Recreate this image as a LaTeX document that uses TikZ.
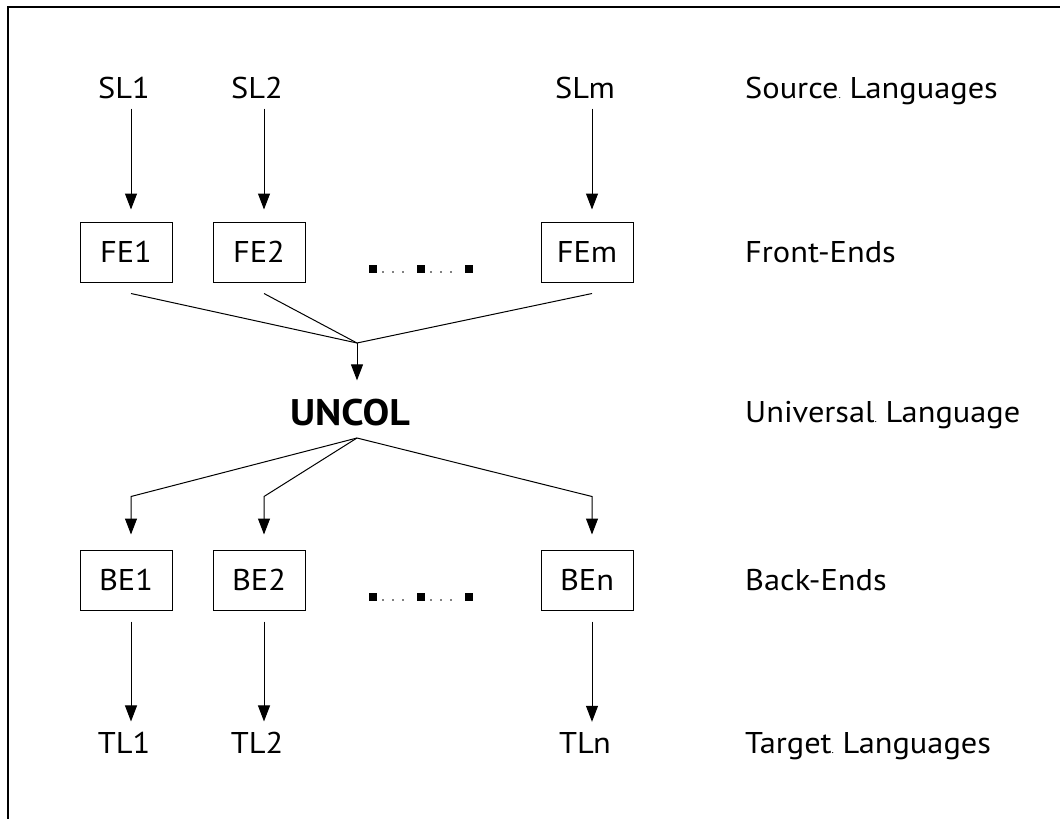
\documentclass[tikz,border=0pt]{standalone}
\usepackage{fontspec}
\setmainfont[FakeStretch=1.08]{PT Sans}
\usetikzlibrary{arrows.meta}

\newcommand{\gapdot}{{\fontsize{10}{10}\selectfont.}\ }

\begin{document}
\begin{tikzpicture}[
		x=1pt, y=-1pt,
		font=\fontsize{30}{36}\selectfont,
		lang/.style={anchor=base, inner sep=0pt},
		stage/.style={draw, line width=1pt, minimum width=92pt, minimum height=60pt, inner sep=0pt},
		layer/.style={anchor=base west, inner sep=0pt},
		flow/.style={line width=1pt, -{Triangle[length=16pt,width=12pt]}},
		fork/.style={line width=1pt}
	]
	\useasboundingbox (0,0) rectangle (1060,819);
	\draw[line width=2pt] (1060,7) -- (8,7) -- (8,819);

	% source languages and front-ends
	\node (sl1) [lang] at (124,98) {SL1};
	\node (sl2) [lang] at (257,98) {SL2};
	\node (slm) [lang] at (585,98) {SLm};
	\node (fe1) [stage] at (126,252) {FE1};
	\node (fe2) [stage] at (259,252) {FE2};
	\node (fem) [stage] at (587,252) {FEm};

	% universal language
	\node (uncol) [lang, font=\fontsize{37}{40}\selectfont\bfseries] at (350,425) {UNCOL};
	\coordinate (merge) at (357,343);
	\coordinate (split) at (357,438);

	% back-ends and target languages
	\node (be1) [stage] at (126,580) {BE1};
	\node (be2) [stage] at (259,580) {BE2};
	\node (ben) [stage] at (587,580) {BEn};
	\node (tl1) [lang] at (124,753) {TL1};
	\node (tl2) [lang] at (257,753) {TL2};
	\node (tln) [lang] at (585,753) {TLn};

	% labels on the right
	\node (srclab) [layer] at (745,98) {Source\gapdot Languages};
	\node (felab) [layer] at (745,262) {Front-Ends};
	\node (unilab) [layer] at (745,422) {Universal\gapdot Language};
	\node (belab) [layer] at (745,590) {Back-Ends};
	\node (tgtlab) [layer] at (745,753) {Target\gapdot Languages};

	\foreach \c in {1,2,m}
		\draw[flow, shorten <=10pt, shorten >=12pt] ([xshift=7pt]sl\c.south) -- ([xshift=7pt]sl\c.south |- fe\c.north);

	\foreach \c in {1,2,m}
		\draw[fork] ([xshift=5pt,yshift=-11pt]fe\c.south) -- (merge);
	\draw[flow, shorten >=18pt] (merge) -- (merge |- uncol.north);

	\foreach \c in {1,2,n}
		\draw[flow, shorten >=15pt] (split) -- ([xshift=5pt,yshift=53pt]be\c.north) -- ([xshift=5pt]be\c.north);

	\foreach \c in {1,2,n}
		\draw[flow, shorten <=11pt, shorten >=10pt] ([xshift=5pt]be\c.south) -- ([xshift=5pt]be\c.south |- tl\c.north);

	% dotted gaps
	\foreach \y in {269,597} {
		\foreach \x in {373,421,469}
			\fill (\x-4,\y-4) rectangle (\x+4,\y+4);
		\foreach \x in {383,393,403,431,441,451}
			\fill (\x,\y+3) circle (0.8pt);
	}
\end{tikzpicture}
\end{document}
